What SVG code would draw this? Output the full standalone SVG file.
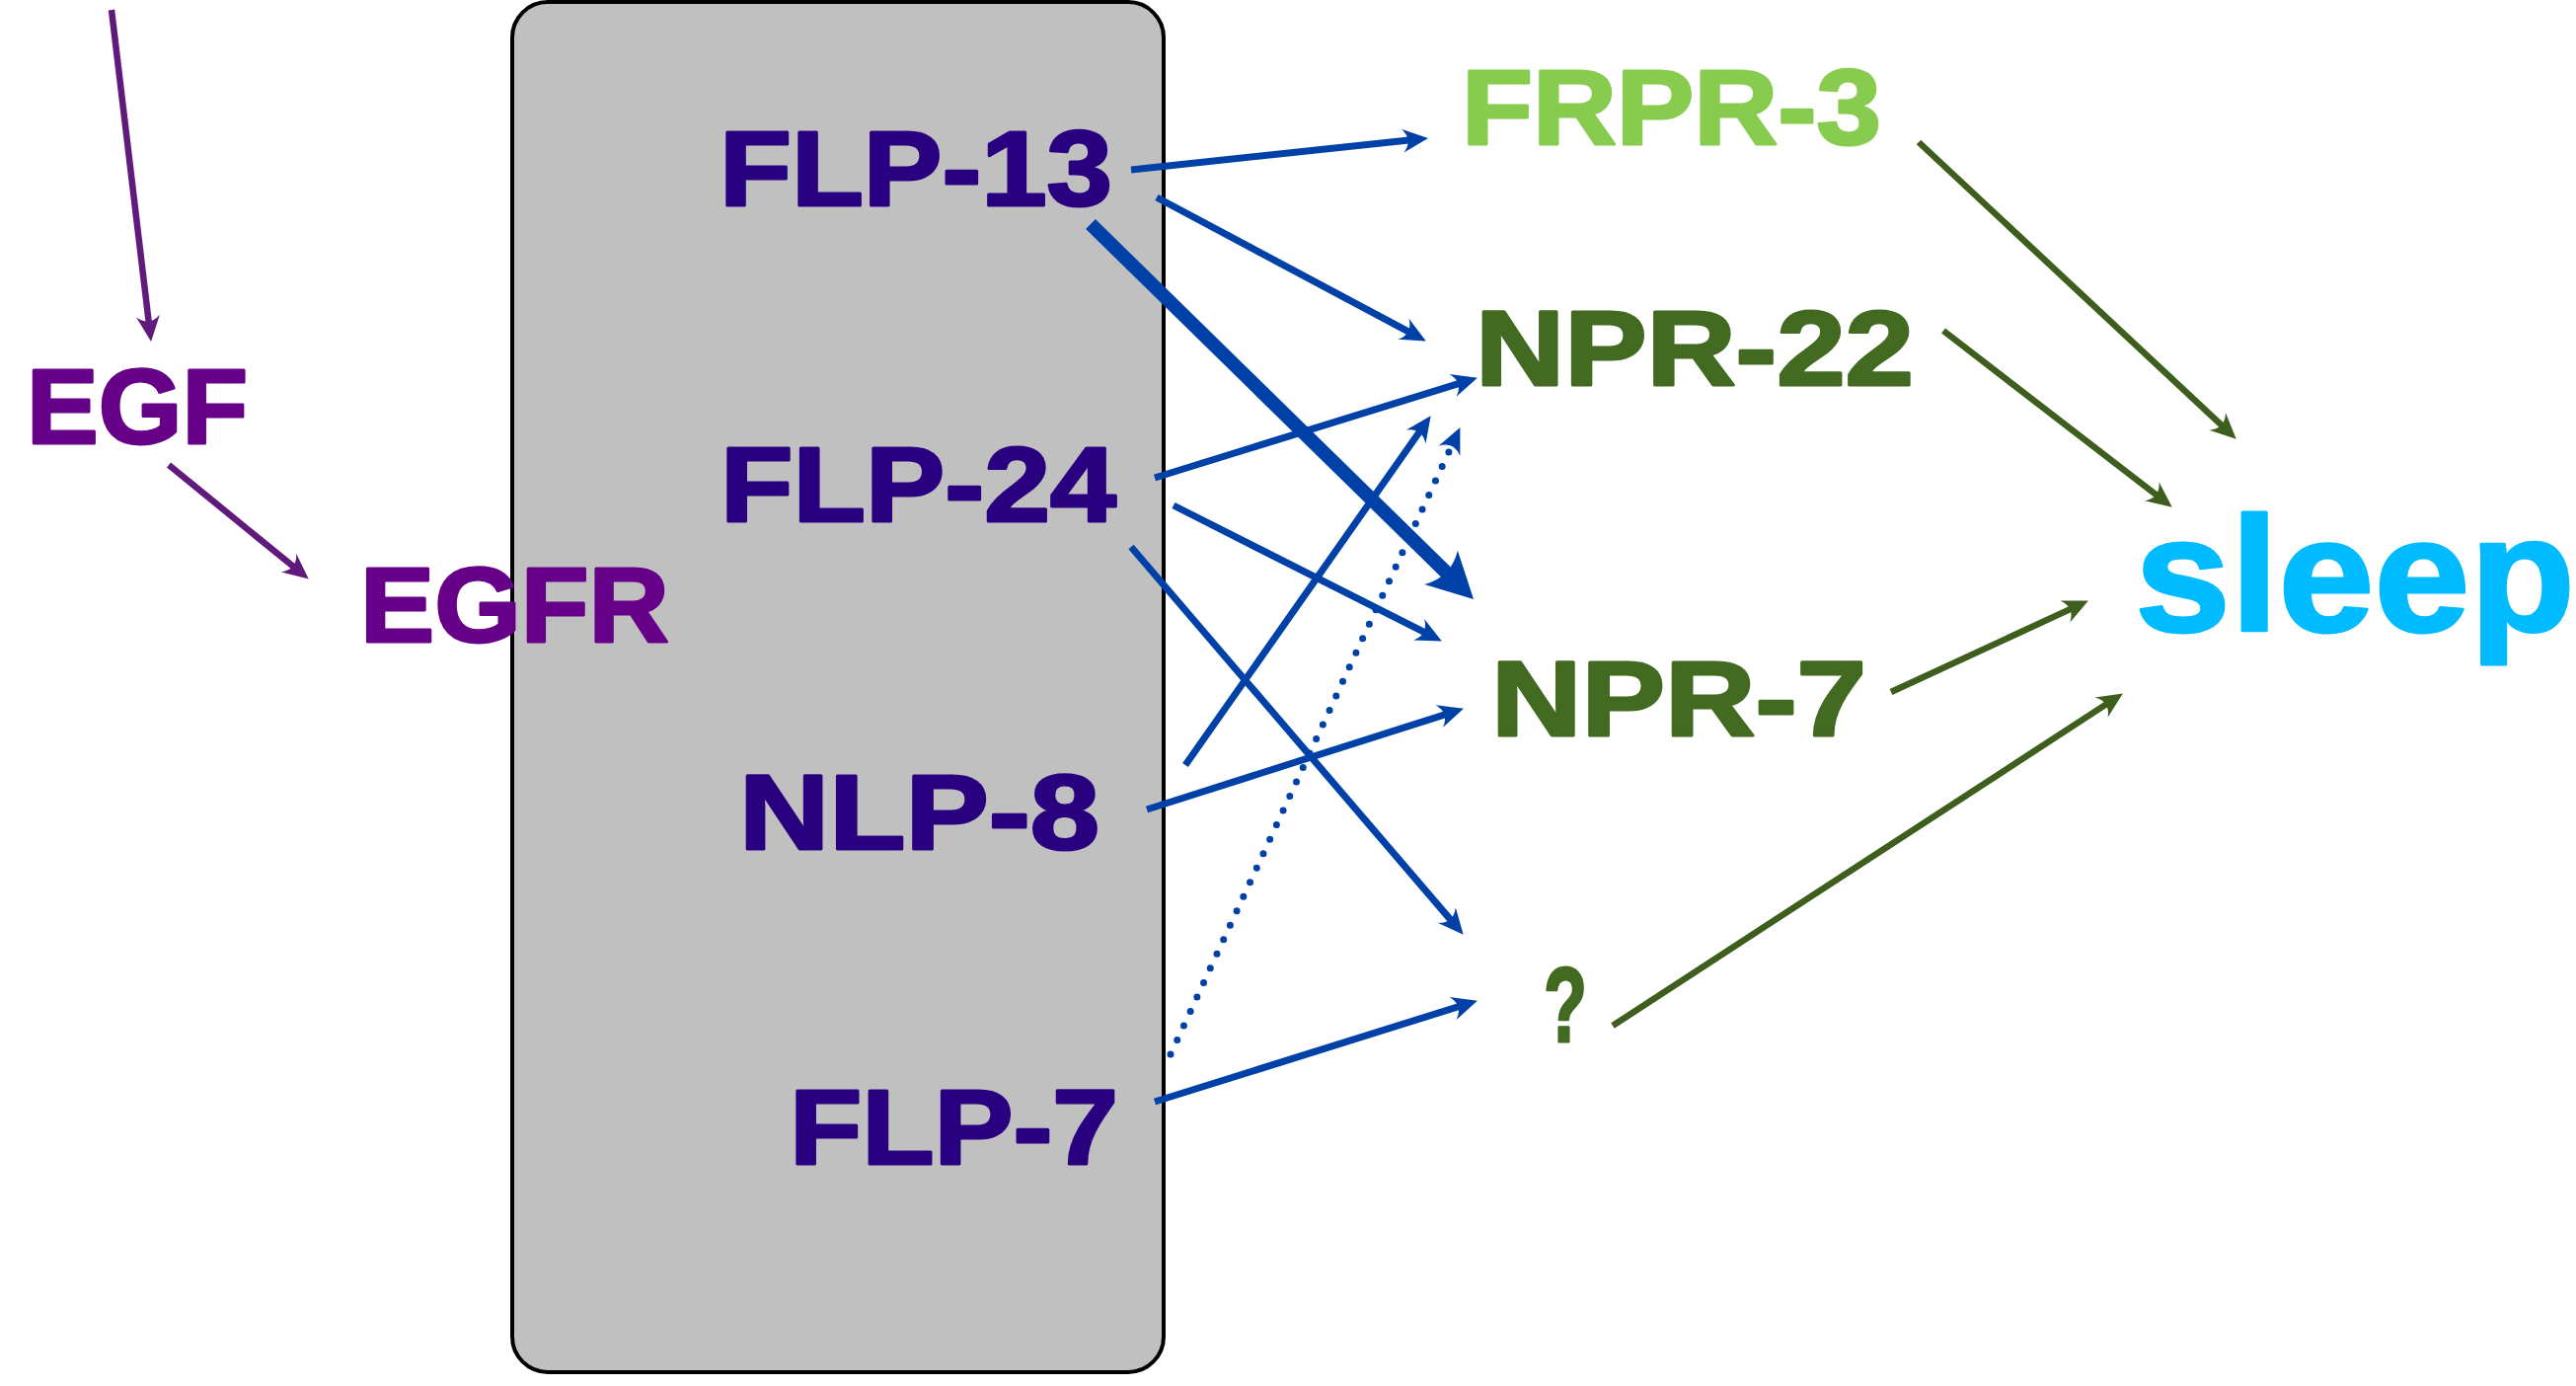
<svg xmlns="http://www.w3.org/2000/svg" width="2610" height="1404" viewBox="0 0 2610 1404">
  <style>
    .lbl { font-family: "Liberation Sans", Arial, sans-serif; font-weight: bold; font-size: 108px; stroke-width: 3; stroke-linejoin: round; }
    .egf { fill: #660088; stroke: #660088; }
    .pep { fill: #29007F; stroke: #29007F; }
    .rcp { fill: #426A20; stroke: #426A20; }
    .frpr { fill: #88CC4F; stroke: #88CC4F; }
    .sleep { fill: #00BBFF; stroke: #00BBFF; font-size: 166px; }
    .c { fill: none; }
    .blue { stroke: #0041A8; stroke-width: 7; marker-end: url(#ah-blue); }
    .green { stroke: #3E5E1E; stroke-width: 6.5; marker-end: url(#ah-green); }
    .purple { stroke: #601A7C; stroke-width: 6.5; marker-end: url(#ah-purple); }
    .thick { stroke: #0041A8; stroke-width: 14; marker-end: url(#ah-blue-big); }
    .dotted { stroke-dasharray: 0 16; stroke-linecap: round; stroke-width: 7; }
  </style>
  <defs>
    <marker id="ah-blue" markerUnits="userSpaceOnUse" orient="auto" viewBox="-14 -14 32 28" refX="0" refY="0" markerWidth="32" markerHeight="28">
      <path d="M15,0 L-11,-12 Q0,0 -11,12 Z" fill="#0041A8"/>
    </marker>
    <marker id="ah-green" markerUnits="userSpaceOnUse" orient="auto" viewBox="-14 -14 32 28" refX="0" refY="0" markerWidth="32" markerHeight="28">
      <path d="M15,0 L-11,-12 Q0,0 -11,12 Z" fill="#3E5E1E"/>
    </marker>
    <marker id="ah-purple" markerUnits="userSpaceOnUse" orient="auto" viewBox="-14 -14 32 28" refX="0" refY="0" markerWidth="32" markerHeight="28">
      <path d="M15,0 L-11,-12 Q0,0 -11,12 Z" fill="#601A7C"/>
    </marker>
    <marker id="ah-blue-big" markerUnits="userSpaceOnUse" orient="auto" viewBox="-18 -26 50 52" refX="0" refY="0" markerWidth="50" markerHeight="52">
      <path d="M30,0 L-16,-24 Q-2,0 -16,24 Z" fill="#0041A8"/>
    </marker>
  </defs>

  <!-- peptide container -->
  <g id="peptides">
    <rect x="519" y="2" width="660" height="1388" rx="36" ry="36" fill="#C0C0C0" stroke="#000" stroke-width="4"/>
  </g>

  <!-- connectors -->
  <g id="connectors">
    <!-- EGF pathway -->
    <path class="c purple" d="M113,10 L151.3,331.1"/>
    <path class="c purple" d="M171,471 L301.1,577.1"/>
    <!-- peptide to receptor -->
    <path class="c blue" d="M1146,172 L1432.1,141.5"/>
    <path class="c blue" d="M1172,200 L1431.6,338.4"/>
    <path class="c thick" d="M1105,227 L1471.6,586"/>
    <path class="c blue" d="M1170,484 L1482.6,387.1"/>
    <path class="c blue" d="M1189,512 L1447.5,642.7"/>
    <path class="c blue" d="M1146,554 L1472.9,935.4"/>
    <path class="c blue" d="M1201,775 L1441,433.5"/>
    <path class="c blue" d="M1162,820 L1468.7,722.3"/>
    <path class="c blue dotted" d="M1186,1068 L1473.1,446.7"/>
    <path class="c blue" d="M1170,1116 L1482.6,1018.2"/>
    <!-- receptor to sleep -->
    <path class="c green" d="M1944,144 L2254.8,434.4"/>
    <path class="c green" d="M1969,335 L2188.9,504.5"/>
    <path class="c green" d="M1916,701 L2102.3,614.9"/>
    <path class="c green" d="M1634,1039 L2138.3,710.6"/>
  </g>

  <!-- nodes -->
  <g id="egf"><text class="lbl egf" x="27" y="449" textLength="224" lengthAdjust="spacingAndGlyphs">EGF</text></g>
  <g id="egfr"><text class="lbl egf" x="365" y="650" textLength="313" lengthAdjust="spacingAndGlyphs">EGFR</text></g>

  <g id="flp-13"><text class="lbl pep" x="729" y="208" textLength="398" lengthAdjust="spacingAndGlyphs">FLP-13</text></g>
  <g id="flp-24"><text class="lbl pep" x="730" y="528" textLength="401" lengthAdjust="spacingAndGlyphs">FLP-24</text></g>
  <g id="nlp-8"><text class="lbl pep" x="749" y="860" textLength="365" lengthAdjust="spacingAndGlyphs">NLP-8</text></g>
  <g id="flp-7"><text class="lbl pep" x="800" y="1179" textLength="333" lengthAdjust="spacingAndGlyphs">FLP-7</text></g>

  <g id="frpr-3"><text class="lbl frpr" x="1481" y="146" textLength="425" lengthAdjust="spacingAndGlyphs">FRPR-3</text></g>
  <g id="npr-22"><text class="lbl rcp" x="1495" y="390" textLength="444" lengthAdjust="spacingAndGlyphs">NPR-22</text></g>
  <g id="npr-7"><text class="lbl rcp" x="1511" y="745" textLength="380" lengthAdjust="spacingAndGlyphs">NPR-7</text></g>
  <g id="unknown"><text class="lbl rcp" x="1564" y="1055" textLength="44" lengthAdjust="spacingAndGlyphs">?</text></g>

  <g id="sleep"><text class="lbl sleep" x="2163" y="639" textLength="446" lengthAdjust="spacingAndGlyphs">sleep</text></g>
</svg>
